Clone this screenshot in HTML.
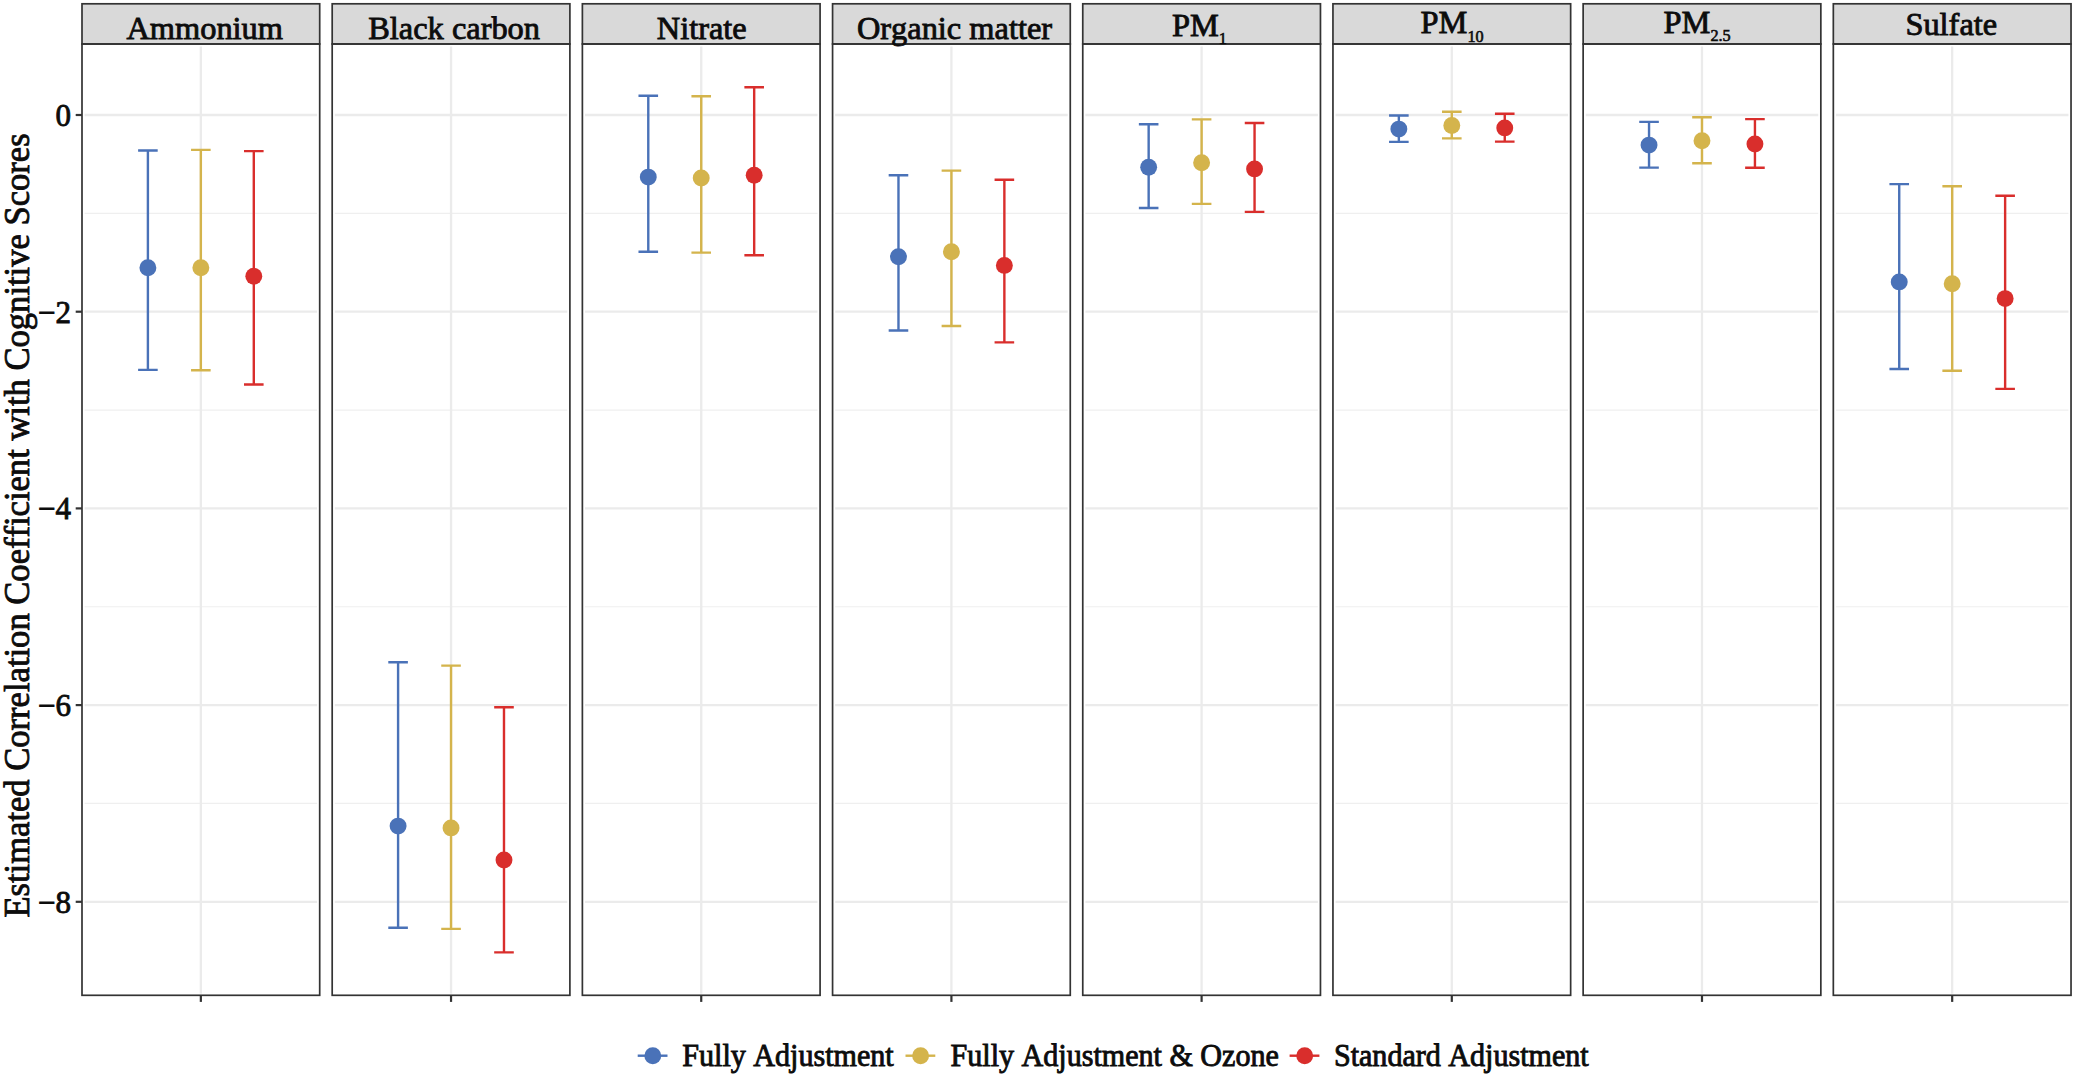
<!DOCTYPE html>
<html lang="en"><head><meta charset="utf-8"><title>Estimated Correlation Coefficient with Cognitive Scores</title>
<style>html,body{margin:0;padding:0;background:#fff;}body{width:2075px;height:1076px;overflow:hidden;}svg{display:block;}text{font-family:"Liberation Serif","Times New Roman",Times,serif;fill:#0c0c0c;stroke:#0c0c0c;stroke-width:0.85px;font-kerning:none;}</style></head><body>
<svg width="2075" height="1076" viewBox="0 0 2075 1076">
<rect width="2075" height="1076" fill="#ffffff"/>
<g>
<rect x="82" y="44" width="237.7" height="951.3" fill="#fff"/>
<line x1="84.6" x2="317.1" y1="213.35" y2="213.35" stroke="#efefef" stroke-width="1.2"/>
<line x1="84.6" x2="317.1" y1="410.05" y2="410.05" stroke="#efefef" stroke-width="1.2"/>
<line x1="84.6" x2="317.1" y1="606.75" y2="606.75" stroke="#efefef" stroke-width="1.2"/>
<line x1="84.6" x2="317.1" y1="803.45" y2="803.45" stroke="#efefef" stroke-width="1.2"/>
<line x1="84.6" x2="317.1" y1="115" y2="115" stroke="#ebebeb" stroke-width="2.3"/>
<line x1="84.6" x2="317.1" y1="311.7" y2="311.7" stroke="#ebebeb" stroke-width="2.3"/>
<line x1="84.6" x2="317.1" y1="508.4" y2="508.4" stroke="#ebebeb" stroke-width="2.3"/>
<line x1="84.6" x2="317.1" y1="705.1" y2="705.1" stroke="#ebebeb" stroke-width="2.3"/>
<line x1="84.6" x2="317.1" y1="901.8" y2="901.8" stroke="#ebebeb" stroke-width="2.3"/>
<line x1="200.85" x2="200.85" y1="46.4" y2="993.7" stroke="#ebebeb" stroke-width="2.3"/>
<path d="M138.1 150.5H157.7M147.9 150.5V369.9M138.1 369.9H157.7" stroke="#4a72b8" stroke-width="2.4" fill="none"/>
<circle cx="147.9" cy="267.7" r="8.45" fill="#4a72b8"/>
<path d="M191.05 149.9H210.65M200.85 149.9V370.2M191.05 370.2H210.65" stroke="#d4b44c" stroke-width="2.4" fill="none"/>
<circle cx="200.85" cy="267.7" r="8.45" fill="#d4b44c"/>
<path d="M244 151.1H263.6M253.8 151.1V384.5M244 384.5H263.6" stroke="#d92e2c" stroke-width="2.4" fill="none"/>
<circle cx="253.8" cy="276.3" r="8.45" fill="#d92e2c"/>
<rect x="82" y="3.8" width="237.7" height="40.2" fill="#d9d9d9" stroke="#333333" stroke-width="1.7"/>
<rect x="82" y="44" width="237.7" height="951.3" fill="none" stroke="#333333" stroke-width="1.7"/>
<line x1="200.85" x2="200.85" y1="995.3" y2="1001.9" stroke="#333333" stroke-width="2.2"/>
<text x="204.7" y="39.3" font-size="32.4" text-anchor="middle">Ammonium</text>
</g>
<g>
<rect x="332.19" y="44" width="237.7" height="951.3" fill="#fff"/>
<line x1="334.79" x2="567.29" y1="213.35" y2="213.35" stroke="#efefef" stroke-width="1.2"/>
<line x1="334.79" x2="567.29" y1="410.05" y2="410.05" stroke="#efefef" stroke-width="1.2"/>
<line x1="334.79" x2="567.29" y1="606.75" y2="606.75" stroke="#efefef" stroke-width="1.2"/>
<line x1="334.79" x2="567.29" y1="803.45" y2="803.45" stroke="#efefef" stroke-width="1.2"/>
<line x1="334.79" x2="567.29" y1="115" y2="115" stroke="#ebebeb" stroke-width="2.3"/>
<line x1="334.79" x2="567.29" y1="311.7" y2="311.7" stroke="#ebebeb" stroke-width="2.3"/>
<line x1="334.79" x2="567.29" y1="508.4" y2="508.4" stroke="#ebebeb" stroke-width="2.3"/>
<line x1="334.79" x2="567.29" y1="705.1" y2="705.1" stroke="#ebebeb" stroke-width="2.3"/>
<line x1="334.79" x2="567.29" y1="901.8" y2="901.8" stroke="#ebebeb" stroke-width="2.3"/>
<line x1="451.04" x2="451.04" y1="46.4" y2="993.7" stroke="#ebebeb" stroke-width="2.3"/>
<path d="M388.29 662.3H407.89M398.09 662.3V927.8M388.29 927.8H407.89" stroke="#4a72b8" stroke-width="2.4" fill="none"/>
<circle cx="398.09" cy="826.1" r="8.45" fill="#4a72b8"/>
<path d="M441.24 665.6H460.84M451.04 665.6V928.9M441.24 928.9H460.84" stroke="#d4b44c" stroke-width="2.4" fill="none"/>
<circle cx="451.04" cy="827.9" r="8.45" fill="#d4b44c"/>
<path d="M494.19 707.2H513.79M503.99 707.2V952.4M494.19 952.4H513.79" stroke="#d92e2c" stroke-width="2.4" fill="none"/>
<circle cx="503.99" cy="860" r="8.45" fill="#d92e2c"/>
<rect x="332.19" y="3.8" width="237.7" height="40.2" fill="#d9d9d9" stroke="#333333" stroke-width="1.7"/>
<rect x="332.19" y="44" width="237.7" height="951.3" fill="none" stroke="#333333" stroke-width="1.7"/>
<line x1="451.04" x2="451.04" y1="995.3" y2="1001.9" stroke="#333333" stroke-width="2.2"/>
<text x="454.14" y="39.3" font-size="32.4" text-anchor="middle">Black carbon</text>
</g>
<g>
<rect x="582.38" y="44" width="237.7" height="951.3" fill="#fff"/>
<line x1="584.98" x2="817.48" y1="213.35" y2="213.35" stroke="#efefef" stroke-width="1.2"/>
<line x1="584.98" x2="817.48" y1="410.05" y2="410.05" stroke="#efefef" stroke-width="1.2"/>
<line x1="584.98" x2="817.48" y1="606.75" y2="606.75" stroke="#efefef" stroke-width="1.2"/>
<line x1="584.98" x2="817.48" y1="803.45" y2="803.45" stroke="#efefef" stroke-width="1.2"/>
<line x1="584.98" x2="817.48" y1="115" y2="115" stroke="#ebebeb" stroke-width="2.3"/>
<line x1="584.98" x2="817.48" y1="311.7" y2="311.7" stroke="#ebebeb" stroke-width="2.3"/>
<line x1="584.98" x2="817.48" y1="508.4" y2="508.4" stroke="#ebebeb" stroke-width="2.3"/>
<line x1="584.98" x2="817.48" y1="705.1" y2="705.1" stroke="#ebebeb" stroke-width="2.3"/>
<line x1="584.98" x2="817.48" y1="901.8" y2="901.8" stroke="#ebebeb" stroke-width="2.3"/>
<line x1="701.23" x2="701.23" y1="46.4" y2="993.7" stroke="#ebebeb" stroke-width="2.3"/>
<path d="M638.48 95.7H658.08M648.28 95.7V251.7M638.48 251.7H658.08" stroke="#4a72b8" stroke-width="2.4" fill="none"/>
<circle cx="648.28" cy="177.1" r="8.45" fill="#4a72b8"/>
<path d="M691.43 96.3H711.03M701.23 96.3V252.6M691.43 252.6H711.03" stroke="#d4b44c" stroke-width="2.4" fill="none"/>
<circle cx="701.23" cy="178" r="8.45" fill="#d4b44c"/>
<path d="M744.38 87.3H763.98M754.18 87.3V255.3M744.38 255.3H763.98" stroke="#d92e2c" stroke-width="2.4" fill="none"/>
<circle cx="754.18" cy="175.3" r="8.45" fill="#d92e2c"/>
<rect x="582.38" y="3.8" width="237.7" height="40.2" fill="#d9d9d9" stroke="#333333" stroke-width="1.7"/>
<rect x="582.38" y="44" width="237.7" height="951.3" fill="none" stroke="#333333" stroke-width="1.7"/>
<line x1="701.23" x2="701.23" y1="995.3" y2="1001.9" stroke="#333333" stroke-width="2.2"/>
<text x="701.78" y="39.3" font-size="32.4" text-anchor="middle">Nitrate</text>
</g>
<g>
<rect x="832.57" y="44" width="237.7" height="951.3" fill="#fff"/>
<line x1="835.17" x2="1067.67" y1="213.35" y2="213.35" stroke="#efefef" stroke-width="1.2"/>
<line x1="835.17" x2="1067.67" y1="410.05" y2="410.05" stroke="#efefef" stroke-width="1.2"/>
<line x1="835.17" x2="1067.67" y1="606.75" y2="606.75" stroke="#efefef" stroke-width="1.2"/>
<line x1="835.17" x2="1067.67" y1="803.45" y2="803.45" stroke="#efefef" stroke-width="1.2"/>
<line x1="835.17" x2="1067.67" y1="115" y2="115" stroke="#ebebeb" stroke-width="2.3"/>
<line x1="835.17" x2="1067.67" y1="311.7" y2="311.7" stroke="#ebebeb" stroke-width="2.3"/>
<line x1="835.17" x2="1067.67" y1="508.4" y2="508.4" stroke="#ebebeb" stroke-width="2.3"/>
<line x1="835.17" x2="1067.67" y1="705.1" y2="705.1" stroke="#ebebeb" stroke-width="2.3"/>
<line x1="835.17" x2="1067.67" y1="901.8" y2="901.8" stroke="#ebebeb" stroke-width="2.3"/>
<line x1="951.42" x2="951.42" y1="46.4" y2="993.7" stroke="#ebebeb" stroke-width="2.3"/>
<path d="M888.67 175.3H908.27M898.47 175.3V330.5M888.67 330.5H908.27" stroke="#4a72b8" stroke-width="2.4" fill="none"/>
<circle cx="898.47" cy="256.8" r="8.45" fill="#4a72b8"/>
<path d="M941.62 170.6H961.22M951.42 170.6V326M941.62 326H961.22" stroke="#d4b44c" stroke-width="2.4" fill="none"/>
<circle cx="951.42" cy="251.7" r="8.45" fill="#d4b44c"/>
<path d="M994.57 179.8H1014.17M1004.37 179.8V342.4M994.57 342.4H1014.17" stroke="#d92e2c" stroke-width="2.4" fill="none"/>
<circle cx="1004.37" cy="265.4" r="8.45" fill="#d92e2c"/>
<rect x="832.57" y="3.8" width="237.7" height="40.2" fill="#d9d9d9" stroke="#333333" stroke-width="1.7"/>
<rect x="832.57" y="44" width="237.7" height="951.3" fill="none" stroke="#333333" stroke-width="1.7"/>
<line x1="951.42" x2="951.42" y1="995.3" y2="1001.9" stroke="#333333" stroke-width="2.2"/>
<text x="954.47" y="39.3" font-size="32.4" text-anchor="middle">Organic matter</text>
</g>
<g>
<rect x="1082.76" y="44" width="237.7" height="951.3" fill="#fff"/>
<line x1="1085.36" x2="1317.86" y1="213.35" y2="213.35" stroke="#efefef" stroke-width="1.2"/>
<line x1="1085.36" x2="1317.86" y1="410.05" y2="410.05" stroke="#efefef" stroke-width="1.2"/>
<line x1="1085.36" x2="1317.86" y1="606.75" y2="606.75" stroke="#efefef" stroke-width="1.2"/>
<line x1="1085.36" x2="1317.86" y1="803.45" y2="803.45" stroke="#efefef" stroke-width="1.2"/>
<line x1="1085.36" x2="1317.86" y1="115" y2="115" stroke="#ebebeb" stroke-width="2.3"/>
<line x1="1085.36" x2="1317.86" y1="311.7" y2="311.7" stroke="#ebebeb" stroke-width="2.3"/>
<line x1="1085.36" x2="1317.86" y1="508.4" y2="508.4" stroke="#ebebeb" stroke-width="2.3"/>
<line x1="1085.36" x2="1317.86" y1="705.1" y2="705.1" stroke="#ebebeb" stroke-width="2.3"/>
<line x1="1085.36" x2="1317.86" y1="901.8" y2="901.8" stroke="#ebebeb" stroke-width="2.3"/>
<line x1="1201.61" x2="1201.61" y1="46.4" y2="993.7" stroke="#ebebeb" stroke-width="2.3"/>
<path d="M1138.86 124.2H1158.46M1148.66 124.2V208M1138.86 208H1158.46" stroke="#4a72b8" stroke-width="2.4" fill="none"/>
<circle cx="1148.66" cy="167.3" r="8.45" fill="#4a72b8"/>
<path d="M1191.81 119.4H1211.41M1201.61 119.4V203.9M1191.81 203.9H1211.41" stroke="#d4b44c" stroke-width="2.4" fill="none"/>
<circle cx="1201.61" cy="162.8" r="8.45" fill="#d4b44c"/>
<path d="M1244.76 123H1264.36M1254.56 123V211.9M1244.76 211.9H1264.36" stroke="#d92e2c" stroke-width="2.4" fill="none"/>
<circle cx="1254.56" cy="168.9" r="8.45" fill="#d92e2c"/>
<rect x="1082.76" y="3.8" width="237.7" height="40.2" fill="#d9d9d9" stroke="#333333" stroke-width="1.7"/>
<rect x="1082.76" y="44" width="237.7" height="951.3" fill="none" stroke="#333333" stroke-width="1.7"/>
<line x1="1201.61" x2="1201.61" y1="995.3" y2="1001.9" stroke="#333333" stroke-width="2.2"/>
<text x="1199.41" y="35.7" font-size="32.4" text-anchor="middle">PM<tspan font-size="16.2" dy="8.4" stroke-width="0.6">1</tspan></text>
</g>
<g>
<rect x="1332.95" y="44" width="237.7" height="951.3" fill="#fff"/>
<line x1="1335.55" x2="1568.05" y1="213.35" y2="213.35" stroke="#efefef" stroke-width="1.2"/>
<line x1="1335.55" x2="1568.05" y1="410.05" y2="410.05" stroke="#efefef" stroke-width="1.2"/>
<line x1="1335.55" x2="1568.05" y1="606.75" y2="606.75" stroke="#efefef" stroke-width="1.2"/>
<line x1="1335.55" x2="1568.05" y1="803.45" y2="803.45" stroke="#efefef" stroke-width="1.2"/>
<line x1="1335.55" x2="1568.05" y1="115" y2="115" stroke="#ebebeb" stroke-width="2.3"/>
<line x1="1335.55" x2="1568.05" y1="311.7" y2="311.7" stroke="#ebebeb" stroke-width="2.3"/>
<line x1="1335.55" x2="1568.05" y1="508.4" y2="508.4" stroke="#ebebeb" stroke-width="2.3"/>
<line x1="1335.55" x2="1568.05" y1="705.1" y2="705.1" stroke="#ebebeb" stroke-width="2.3"/>
<line x1="1335.55" x2="1568.05" y1="901.8" y2="901.8" stroke="#ebebeb" stroke-width="2.3"/>
<line x1="1451.8" x2="1451.8" y1="46.4" y2="993.7" stroke="#ebebeb" stroke-width="2.3"/>
<path d="M1389.05 115.5H1408.65M1398.85 115.5V141.9M1389.05 141.9H1408.65" stroke="#4a72b8" stroke-width="2.4" fill="none"/>
<circle cx="1398.85" cy="129.1" r="8.45" fill="#4a72b8"/>
<path d="M1442 111.8H1461.6M1451.8 111.8V138.4M1442 138.4H1461.6" stroke="#d4b44c" stroke-width="2.4" fill="none"/>
<circle cx="1451.8" cy="125.5" r="8.45" fill="#d4b44c"/>
<path d="M1494.95 113.8H1514.55M1504.75 113.8V141.6M1494.95 141.6H1514.55" stroke="#d92e2c" stroke-width="2.4" fill="none"/>
<circle cx="1504.75" cy="127.9" r="8.45" fill="#d92e2c"/>
<rect x="1332.95" y="3.8" width="237.7" height="40.2" fill="#d9d9d9" stroke="#333333" stroke-width="1.7"/>
<rect x="1332.95" y="44" width="237.7" height="951.3" fill="none" stroke="#333333" stroke-width="1.7"/>
<line x1="1451.8" x2="1451.8" y1="995.3" y2="1001.9" stroke="#333333" stroke-width="2.2"/>
<text x="1452.1" y="33.3" font-size="32.4" text-anchor="middle">PM<tspan font-size="16.2" dy="8.4" stroke-width="0.6">10</tspan></text>
</g>
<g>
<rect x="1583.14" y="44" width="237.7" height="951.3" fill="#fff"/>
<line x1="1585.74" x2="1818.24" y1="213.35" y2="213.35" stroke="#efefef" stroke-width="1.2"/>
<line x1="1585.74" x2="1818.24" y1="410.05" y2="410.05" stroke="#efefef" stroke-width="1.2"/>
<line x1="1585.74" x2="1818.24" y1="606.75" y2="606.75" stroke="#efefef" stroke-width="1.2"/>
<line x1="1585.74" x2="1818.24" y1="803.45" y2="803.45" stroke="#efefef" stroke-width="1.2"/>
<line x1="1585.74" x2="1818.24" y1="115" y2="115" stroke="#ebebeb" stroke-width="2.3"/>
<line x1="1585.74" x2="1818.24" y1="311.7" y2="311.7" stroke="#ebebeb" stroke-width="2.3"/>
<line x1="1585.74" x2="1818.24" y1="508.4" y2="508.4" stroke="#ebebeb" stroke-width="2.3"/>
<line x1="1585.74" x2="1818.24" y1="705.1" y2="705.1" stroke="#ebebeb" stroke-width="2.3"/>
<line x1="1585.74" x2="1818.24" y1="901.8" y2="901.8" stroke="#ebebeb" stroke-width="2.3"/>
<line x1="1701.99" x2="1701.99" y1="46.4" y2="993.7" stroke="#ebebeb" stroke-width="2.3"/>
<path d="M1639.24 121.9H1658.84M1649.04 121.9V167.6M1639.24 167.6H1658.84" stroke="#4a72b8" stroke-width="2.4" fill="none"/>
<circle cx="1649.04" cy="145.1" r="8.45" fill="#4a72b8"/>
<path d="M1692.19 117.3H1711.79M1701.99 117.3V163.3M1692.19 163.3H1711.79" stroke="#d4b44c" stroke-width="2.4" fill="none"/>
<circle cx="1701.99" cy="140.8" r="8.45" fill="#d4b44c"/>
<path d="M1745.14 119.1H1764.74M1754.94 119.1V167.7M1745.14 167.7H1764.74" stroke="#d92e2c" stroke-width="2.4" fill="none"/>
<circle cx="1754.94" cy="144" r="8.45" fill="#d92e2c"/>
<rect x="1583.14" y="3.8" width="237.7" height="40.2" fill="#d9d9d9" stroke="#333333" stroke-width="1.7"/>
<rect x="1583.14" y="44" width="237.7" height="951.3" fill="none" stroke="#333333" stroke-width="1.7"/>
<line x1="1701.99" x2="1701.99" y1="995.3" y2="1001.9" stroke="#333333" stroke-width="2.2"/>
<text x="1697.09" y="33" font-size="32.4" text-anchor="middle">PM<tspan font-size="16.2" dy="8.4" stroke-width="0.6">2.5</tspan></text>
</g>
<g>
<rect x="1833.33" y="44" width="237.7" height="951.3" fill="#fff"/>
<line x1="1835.93" x2="2068.43" y1="213.35" y2="213.35" stroke="#efefef" stroke-width="1.2"/>
<line x1="1835.93" x2="2068.43" y1="410.05" y2="410.05" stroke="#efefef" stroke-width="1.2"/>
<line x1="1835.93" x2="2068.43" y1="606.75" y2="606.75" stroke="#efefef" stroke-width="1.2"/>
<line x1="1835.93" x2="2068.43" y1="803.45" y2="803.45" stroke="#efefef" stroke-width="1.2"/>
<line x1="1835.93" x2="2068.43" y1="115" y2="115" stroke="#ebebeb" stroke-width="2.3"/>
<line x1="1835.93" x2="2068.43" y1="311.7" y2="311.7" stroke="#ebebeb" stroke-width="2.3"/>
<line x1="1835.93" x2="2068.43" y1="508.4" y2="508.4" stroke="#ebebeb" stroke-width="2.3"/>
<line x1="1835.93" x2="2068.43" y1="705.1" y2="705.1" stroke="#ebebeb" stroke-width="2.3"/>
<line x1="1835.93" x2="2068.43" y1="901.8" y2="901.8" stroke="#ebebeb" stroke-width="2.3"/>
<line x1="1952.18" x2="1952.18" y1="46.4" y2="993.7" stroke="#ebebeb" stroke-width="2.3"/>
<path d="M1889.43 184.1H1909.03M1899.23 184.1V369M1889.43 369H1909.03" stroke="#4a72b8" stroke-width="2.4" fill="none"/>
<circle cx="1899.23" cy="281.9" r="8.45" fill="#4a72b8"/>
<path d="M1942.38 186.2H1961.98M1952.18 186.2V370.8M1942.38 370.8H1961.98" stroke="#d4b44c" stroke-width="2.4" fill="none"/>
<circle cx="1952.18" cy="283.7" r="8.45" fill="#d4b44c"/>
<path d="M1995.33 195.7H2014.93M2005.13 195.7V388.9M1995.33 388.9H2014.93" stroke="#d92e2c" stroke-width="2.4" fill="none"/>
<circle cx="2005.13" cy="298.6" r="8.45" fill="#d92e2c"/>
<rect x="1833.33" y="3.8" width="237.7" height="40.2" fill="#d9d9d9" stroke="#333333" stroke-width="1.7"/>
<rect x="1833.33" y="44" width="237.7" height="951.3" fill="none" stroke="#333333" stroke-width="1.7"/>
<line x1="1952.18" x2="1952.18" y1="995.3" y2="1001.9" stroke="#333333" stroke-width="2.2"/>
<text x="1951.28" y="35.4" font-size="32.4" text-anchor="middle">Sulfate</text>
</g>
<line x1="75.7" x2="82" y1="115" y2="115" stroke="#333333" stroke-width="2.2"/>
<text x="70.9" y="125.8" font-size="31" text-anchor="end">0</text>
<line x1="75.7" x2="82" y1="311.7" y2="311.7" stroke="#333333" stroke-width="2.2"/>
<text x="70.9" y="322.5" font-size="31" text-anchor="end">−2</text>
<line x1="75.7" x2="82" y1="508.4" y2="508.4" stroke="#333333" stroke-width="2.2"/>
<text x="70.9" y="519.2" font-size="31" text-anchor="end">−4</text>
<line x1="75.7" x2="82" y1="705.1" y2="705.1" stroke="#333333" stroke-width="2.2"/>
<text x="70.9" y="715.9" font-size="31" text-anchor="end">−6</text>
<line x1="75.7" x2="82" y1="901.8" y2="901.8" stroke="#333333" stroke-width="2.2"/>
<text x="70.9" y="912.6" font-size="31" text-anchor="end">−8</text>
<text transform="translate(29.2 917.6) rotate(-90)" font-size="35" textLength="784.2" lengthAdjust="spacingAndGlyphs">Estimated Correlation Coefficient with Cognitive Scores</text>
<line x1="637.7" x2="667.5" y1="1055.7" y2="1055.7" stroke="#4a72b8" stroke-width="2.4"/>
<circle cx="652.8" cy="1055.7" r="8.45" fill="#4a72b8"/>
<text transform="translate(682.3 1065.8) scale(1 1.04)" font-size="30.1">Fully Adjustment</text>
<line x1="905.5" x2="935.3" y1="1055.7" y2="1055.7" stroke="#d4b44c" stroke-width="2.4"/>
<circle cx="920.6" cy="1055.7" r="8.45" fill="#d4b44c"/>
<text transform="translate(950.5 1065.8) scale(1 1.04)" font-size="30.1">Fully Adjustment &amp; Ozone</text>
<line x1="1289.6" x2="1319.4" y1="1055.7" y2="1055.7" stroke="#d92e2c" stroke-width="2.4"/>
<circle cx="1304.7" cy="1055.7" r="8.45" fill="#d92e2c"/>
<text transform="translate(1333.9 1065.8) scale(1 1.04)" font-size="30.1">Standard Adjustment</text>
</svg></body></html>
